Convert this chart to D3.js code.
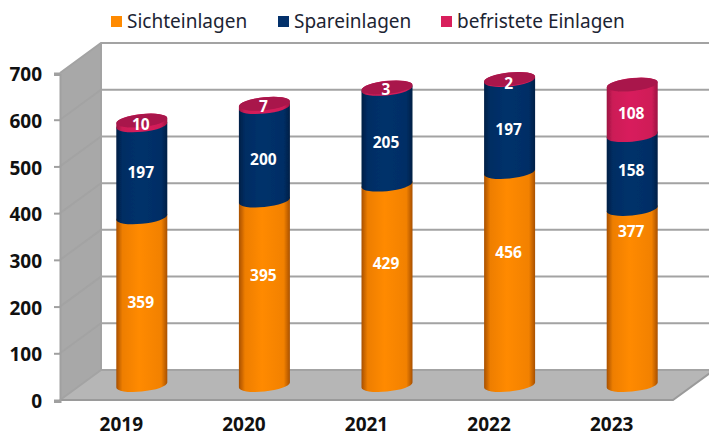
<!DOCTYPE html>
<html>
<head>
<meta charset="utf-8">
<script src="https://cdn.jsdelivr.net/npm/d3@7"></script>
<style>
    html, body { margin: 0; padding: 0; background: #fff; }
    svg { display: block; }
    text { font-family: "Noto Sans", sans-serif; }
    .axis text { font-weight: 700; font-size: 19px; fill: #111; }
    .axis path, .axis line { stroke: #a0a0a0; stroke-width: 2; }
    .label { font-weight: 700; font-size: 15.5px; fill: #fff; text-anchor: middle; }
    .legend text { font-size: 19px; fill: #1c2433; }
</style>
</head>
<body>
<script>
let years = ["2019", "2020", "2021", "2022", "2023"];
let seriesNames = ["Sichteinlagen", "Spareinlagen", "befristete Einlagen"];
let sichteinlagen = [359, 395, 429, 456, 377];
let spareinlagen = [197, 200, 205, 197, 158];
let befristete = [10, 7, 3, 2, 108];
let yTicks = [0, 100, 200, 300, 400, 500, 600, 700];

let width = 709;
let height = 437;

// 3d box: the back wall sits this far from the front axis
let depth = { x: 41, y: -30 };
let rx = 25.5;
let ry = 6.5;
let tilt = 2.5;

let x = d3.scaleBand().domain(years).range([60, 673]);
let y = d3.scaleLinear().domain([0, 700]).range([400, 73]);

let colors = ["#ff8a00", "#03316b", "#d81f5c"];
let edges = ["#a85000", "#001f45", "#9c1342"];
let capColor = "#a9164b";
let legendX = [111, 278, 441];
// the original labels were dragged around by hand, so nudge them per series
let labelShift = [
    [0, -19, -23, -27, -67],
    [0, 4, 4, 2, -3],
    [0, 0, 0, 3, 2]
];

let svg = d3.select("body").append("svg").attr("width", width).attr("height", height);
let defs = svg.append("defs");

colors.forEach((c, i) => {
    let g = defs.append("linearGradient").attr("id", `cyl${i}`);
    g.append("stop").attr("offset", "0%").attr("stop-color", edges[i]);
    g.append("stop").attr("offset", "12%").attr("stop-color", d3.interpolateRgb(edges[i], c)(0.8));
    g.append("stop").attr("offset", "45%").attr("stop-color", c);
    g.append("stop").attr("offset", "88%").attr("stop-color", d3.interpolateRgb(edges[i], c)(0.85));
    g.append("stop").attr("offset", "100%").attr("stop-color", edges[i]);
});
defs.append("filter").attr("id", "soft").append("feGaussianBlur").attr("stdDeviation", 0.6);

let poly = (pts) => "M" + pts.map((p) => p.join(",")).join("L") + "Z";

let x0 = x.range()[0];
let x1 = x.range()[1];
let yBottom = y(0);
let yTop = y(700);

// walls
let walls = svg.append("g");
walls.append("path")
    .attr("d", poly([[x0, yBottom], [x0 + depth.x, yBottom + depth.y], [x1 + depth.x, yBottom + depth.y], [x1, yBottom]]))
    .attr("fill", "#b6b6b6");
walls.append("path")
    .attr("d", poly([[x0, yBottom], [x0, yTop], [x0 + depth.x, yTop + depth.y], [x0 + depth.x, yBottom + depth.y]]))
    .attr("fill", "#a8a8a8");

// gridlines across left wall and back wall
walls.selectAll(".grid").data(yTicks).join("path")
    .attr("class", "grid")
    .attr("fill", "none")
    .attr("stroke", "#a3a3a3")
    .attr("stroke-width", 2)
    .attr("d", (d) => `M${x0},${y(d)}L${x0 + depth.x},${y(d) + depth.y}L${width},${y(d) + depth.y}`);
walls.append("line")
    .attr("x1", x0 + depth.x).attr("x2", x0 + depth.x)
    .attr("y1", yTop + depth.y).attr("y2", yBottom + depth.y)
    .attr("stroke", "#a3a3a3").attr("stroke-width", 2);
walls.append("path")
    .attr("d", `M${x0},${yBottom}L${x1},${yBottom}L${x1 + depth.x},${yBottom + depth.y}`)
    .attr("fill", "none").attr("stroke", "#9a9a9a").attr("stroke-width", 2);

// cylinders
let stackData = years.map((year, i) => ({
    year: year,
    Sichteinlagen: sichteinlagen[i],
    Spareinlagen: spareinlagen[i],
    "befristete Einlagen": befristete[i]
}));
let series = d3.stack().keys(seriesNames)(stackData);

let cx = (d) => x(d.data.year) + x.bandwidth() / 2 + depth.x / 2;
let cyOf = (v) => y(v) + depth.y / 2;

let segment = (d) => {
    let c = cx(d);
    let b = cyOf(d[0]);
    let t = cyOf(d[1]);
    return `M${c - rx},${b + tilt}`
        + `A${rx},${ry} -6 0 0 ${c + rx},${b - tilt}`
        + `L${c + rx},${t - tilt}`
        + `A${rx},${ry} -6 0 0 ${c - rx},${t + tilt}Z`;
};

let bars = svg.append("g").attr("filter", "url(#soft)");
series.forEach((s, i) => {
    bars.append("g").selectAll("path").data(s).join("path")
        .attr("d", segment)
        .attr("fill", `url(#cyl${i})`);
});
// top caps
bars.append("g").selectAll("ellipse").data(series[2]).join("ellipse")
    .attr("rx", rx)
    .attr("ry", ry)
    .attr("transform", (d) => `translate(${cx(d)},${cyOf(d[1])}) rotate(-6)`)
    .attr("fill", capColor);

// value labels
series.forEach((s, i) => {
    svg.append("g").selectAll("text").data(s).join("text")
        .attr("class", "label")
        .attr("x", (d) => cx(d) - 1)
        .attr("y", (d, j) => cyOf((d[0] + d[1]) / 2) + 7 + labelShift[i][j])
        .text((d) => d[1] - d[0]);
});

// axes
let yAxis = d3.axisLeft(y).tickValues(yTicks).tickSize(6).tickPadding(12).tickFormat(d3.format("d"));
let xAxis = d3.axisBottom(x).tickSize(0).tickPadding(18);

svg.append("g").attr("class", "axis").attr("transform", `translate(${x0},1.5)`).call(yAxis)
    .call((g) => g.selectAll("line").attr("y1", -1.5).attr("y2", -1.5));
svg.append("g").attr("class", "axis").attr("transform", `translate(0,${yBottom})`).call(xAxis)
    .call((g) => g.select(".domain").remove());

// legend
let legend = svg.append("g").attr("class", "legend");
let items = legend.selectAll("g").data(seriesNames).join("g")
    .attr("transform", (d, i) => `translate(${legendX[i]},16)`);
items.append("rect").attr("width", 11).attr("height", 11).attr("fill", (d, i) => colors[i]);
items.append("text").attr("x", 16).attr("y", 11.5).text((d) => d);
</script>
</body>
</html>
